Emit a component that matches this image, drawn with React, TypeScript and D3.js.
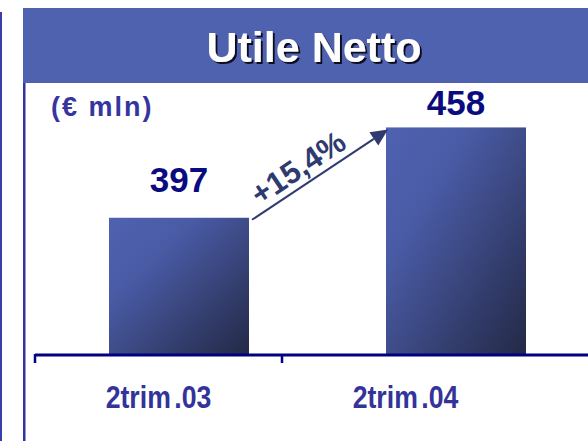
import React from "react";
import * as d3 from "d3";

const categories = ["2trim.03", "2trim.04"];
const values = [397, 458];
const valueLabels = ["397", "458"];
const title = "Utile Netto";
const unitLabel = "(€ mln)";
const growthLabel = "+15,4%";

const W = 588;
const H = 441;

export default function App() {
  const axisY = 354;
  // axis bands (ticks + category labels)
  const xAxis = d3.scaleBand<string>().domain(categories).range([35, 529]);
  // bar bands
  const xBar = d3.scaleBand<string>().domain(categories).range([40.5, 594.5]);
  const y = d3.scaleLinear().domain([305, 488]).range([axisY, 83]);
  const barW = 140;
  const labelGap = [26, 12];
  const font = "'Liberation Sans', Arial, Helvetica, sans-serif";

  const bars = categories.map((c, i) => {
    const cx = (xBar(c) as number) + xBar.bandwidth() / 2;
    const lx = (xAxis(c) as number) + xAxis.bandwidth() / 2;
    return { c, v: values[i], label: valueLabels[i], cx, lx, x0: cx - barW / 2, top: y(values[i]), gap: labelGap[i] };
  });
  const tickXs = categories.map((c) => xAxis(c) as number);

  // arrow from top-right of bar 1 to top-left of bar 2
  const ax1 = bars[0].x0 + barW + 3;
  const ay1 = bars[0].top + 2;
  const ax2 = bars[1].x0 + 2;
  const ay2 = bars[1].top + 2;
  const ang = Math.atan2(ay2 - ay1, ax2 - ax1);
  const angDeg = (ang * 180) / Math.PI;
  const headLen = 17;
  const headW = 8;
  const bx = ax2 - headLen * Math.cos(ang);
  const by = ay2 - headLen * Math.sin(ang);
  const px = -Math.sin(ang);
  const py = Math.cos(ang);
  const head = `M${ax2},${ay2} L${bx + px * headW},${by + py * headW} L${bx - px * headW},${by - py * headW} Z`;
  const midX = (ax1 + ax2) / 2 - 16;
  const midY = (ay1 + ay2) / 2 + 2;

  return (
    <svg width={W} height={H} style={{ position: "absolute", left: 0, top: 0, background: "#fff" }}>
      <defs>
        <linearGradient id="barGrad" x1="0" y1="0" x2="1" y2="1">
          <stop offset="0" stopColor="#4F62B0" />
          <stop offset="0.3" stopColor="#4A5BA6" />
          <stop offset="1" stopColor="#232946" />
        </linearGradient>
        <filter id="shadow" x="-10%" y="-20%" width="120%" height="150%">
          <feDropShadow dx="2" dy="2" stdDeviation="0.4" floodColor="#111122" floodOpacity="1" />
        </filter>
      </defs>
      {/* left frame lines */}
      <rect x={0} y={12} width={2} height={H - 12} fill="#3A3FA8" />
      <rect x={23} y={83} width={2.5} height={H - 83} fill="#3333A0" />
      {/* header */}
      <rect x={23} y={8} width={W - 23} height={75} fill="#4F62B0" />
      <text x={314} y={62} textAnchor="middle" fontFamily={font} fontWeight="bold" fontSize={43} fill="#ffffff" filter="url(#shadow)">
        {title}
      </text>
      {/* unit label */}
      <text x={51} y={116} fontFamily={font} fontWeight="bold" fontSize={27} letterSpacing={2} fill="#3535A0">
        {unitLabel}
      </text>
      {/* bars */}
      {bars.map((b) => (
        <g key={b.c}>
          <rect x={b.x0} y={b.top} width={barW} height={axisY - b.top} fill="url(#barGrad)" />
          <text x={b.cx} y={b.top - b.gap} textAnchor="middle" fontFamily={font} fontWeight="bold" fontSize={35} fill="#0B0B80">
            {b.label}
          </text>
          <g transform={`translate(${b.lx},408) scale(0.86,1)`}>
            <text x={0} y={0} textAnchor="middle" fontFamily={font} fontWeight="bold" fontSize={31} fill="#333399">
              {b.c.split(".")[0]}
              <tspan dx={4}>{"." + b.c.split(".")[1]}</tspan>
            </text>
          </g>
        </g>
      ))}
      {/* axis */}
      <line x1={35} x2={W} y1={axisY + 1} y2={axisY + 1} stroke="#000080" strokeWidth={3} />
      {tickXs.map((t) => (
        <line key={t} x1={t} x2={t} y1={axisY} y2={363} stroke="#000080" strokeWidth={2.5} />
      ))}
      {/* arrow */}
      <line x1={ax1} y1={ay1} x2={bx} y2={by} stroke="#2E3A70" strokeWidth={2} />
      <path d={head} fill="#2E3A70" />
      <text
        x={midX}
        y={midY}
        textAnchor="middle"
        fontFamily={font}
        fontWeight="bold"
        fontSize={31}
        fill="#2E3A70"
        transform={`rotate(${angDeg} ${midX} ${midY})`}
      >
        {growthLabel}
      </text>
    </svg>
  );
}
